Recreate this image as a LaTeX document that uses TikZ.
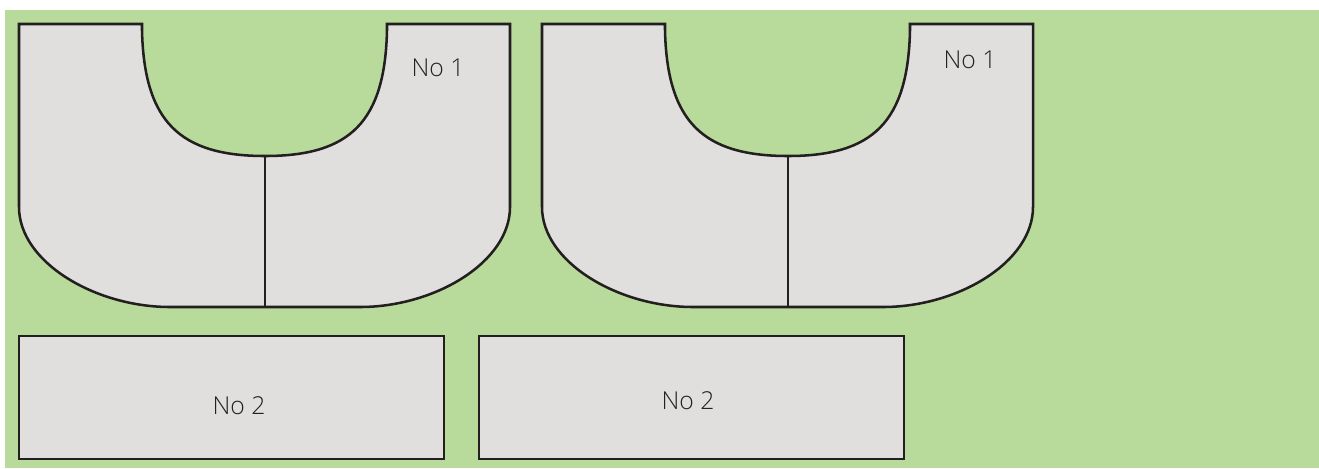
\documentclass[tikz,border=0pt]{standalone}
\usepackage{fontspec}
\setmainfont{Open Sans Light}
\usetikzlibrary{positioning,backgrounds}
\definecolor{sheetgreen}{HTML}{B8DA9B}
\definecolor{partgrey}{HTML}{E0DFDD}
\definecolor{partline}{HTML}{231F20}
\definecolor{parttext}{HTML}{222222}
\tikzset{
	part/.style={draw=partline,fill=partgrey,line width=1.9pt,line join=miter},
	seam/.style={draw=partline,line width=1.9pt},
	strip/.style={part,shape=rectangle,minimum width=318.75pt,minimum height=92.25pt,inner sep=0pt,outer sep=0pt},
	partlabel/.style={text=parttext,font=\fontsize{18.5}{22}\selectfont,inner sep=0pt},
}
\begin{document}
\begin{tikzpicture}[x=0.75pt,y=-0.75pt]
\useasboundingbox (0,0) rectangle (1319,468);
\fill[sheetgreen] (5,10) rectangle (1319,468);
% curved parts, cut twice
\foreach \dx/\nm in {0/a,523/b}{
\begin{scope}[xshift=\dx*0.75pt]
\coordinate (notch\nm) at (265,156);
\coordinate (foot\nm) at (265,307);
\draw[part] (19,24) -- (142,24) -- (142,30)
	.. controls (144,122) and (180,156) .. (notch\nm)
	.. controls (350,156) and (385,122) .. (387,30) -- (387,24)
	-- (510,24) -- (510,207)
	.. controls (510,262) and (435,307) .. (360,307)
	-- (foot\nm) -- (170,307)
	.. controls (95,307) and (19,262) .. (19,207) -- cycle;
\draw[seam] (notch\nm) -- (foot\nm);
\end{scope}
}
% straight parts
\node[strip] (s1) at (231.5,397.5) {};
\node[strip] (s2) at (691.5,397.5) {};
\node[partlabel] (l1) at (438,68) {No 1};
\node[partlabel] (l2) at (970,60) {No 1};
\node[partlabel] (l3) at (239,406) {No 2};
\node[partlabel] (l4) at (688,401) {No 2};
\end{tikzpicture}
\end{document}
